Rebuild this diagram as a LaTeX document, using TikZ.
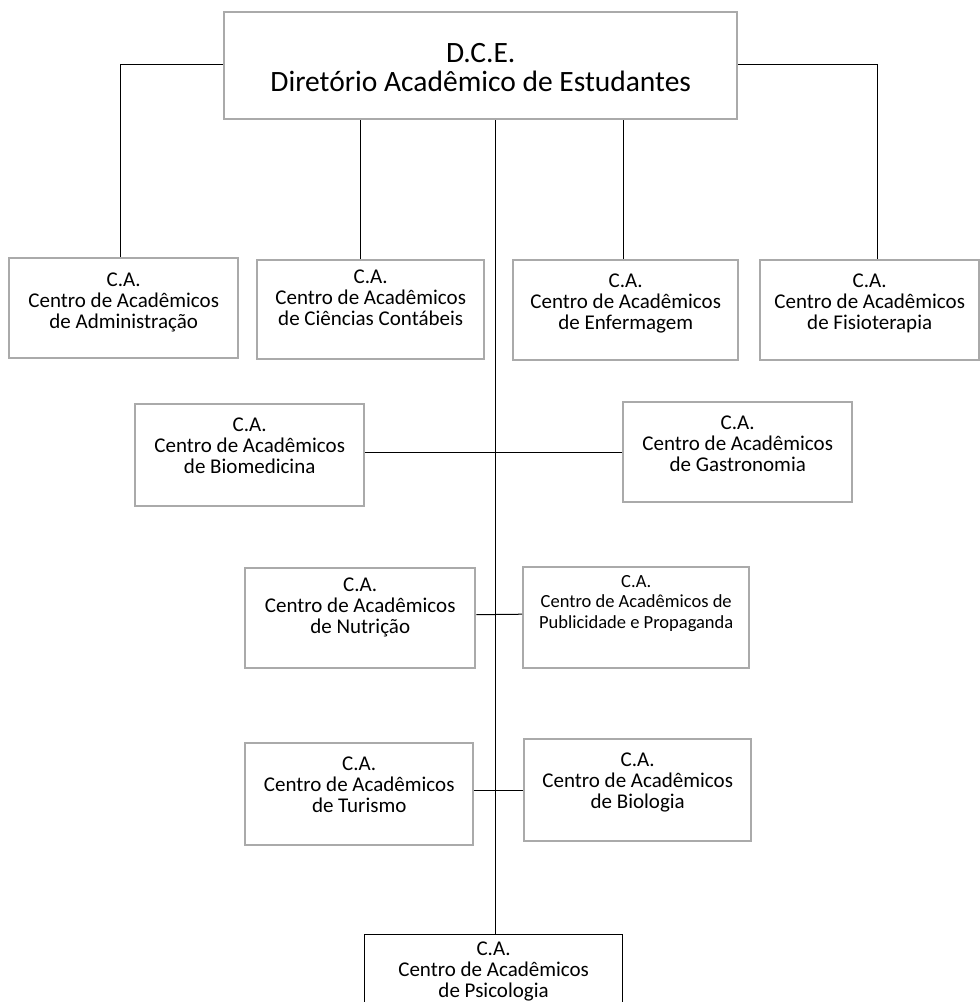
\documentclass[tikz,border=0pt]{standalone}
\usepackage{fontspec}
\setmainfont{Carlito}
\definecolor{boxgray}{RGB}{170,170,170}
\newcommand\catext[4]{\parbox[t][#2pt][t]{#1pt}{\centering\rule{0pt}{#3pt}#4}}
\tikzset{
  cabox/.style={draw=boxgray, line width=2.4pt, inner sep=0pt, anchor=north west,
    font=\fontsize{21}{21}\selectfont},
  psbox/.style={draw=black, line width=1.2pt, inner sep=0pt, anchor=north west,
    font=\fontsize{21}{21}\selectfont},
  smallca/.style={font=\fontsize{18.5}{20.5}\selectfont},
  dcefont/.style={font=\fontsize{29.5}{29}\selectfont},
  conn/.style={draw=black, line width=1pt},
}
\begin{document}
\begin{tikzpicture}[x=1pt,y=-1pt]
\useasboundingbox (0,0) rectangle (980,1002);
\clip (0,0) rectangle (980,1002);
\fill[white] (0,0) rectangle (980,1002);

\node[cabox, dcefont] (dce) at (223,11) {\catext{513}{107}{50}{D.C.E.\\Diretório Acadêmico de Estudantes}};

\node[cabox] (admin) at (8,257) {\catext{229}{100}{28}{C.A.\\Centro de Acadêmicos\\de Administração}};
\node[cabox] (cienc) at (256,259) {\catext{227}{99}{23}{C.A.\\Centro de Acadêmicos\\de Ciências Contábeis}};
\node[cabox] (enf) at (512,259) {\catext{225}{100}{27}{C.A.\\Centro de Acadêmicos\\de Enfermagem}};
\node[cabox] (fisio) at (759,259) {\catext{219}{100}{27}{C.A.\\Centro de Acadêmicos\\de Fisioterapia}};

\node[cabox] (biomed) at (134,403) {\catext{229}{102}{27}{C.A.\\Centro de Acadêmicos\\de Biomedicina}};
\node[cabox] (gastro) at (622,401) {\catext{229}{100}{27}{C.A.\\Centro de Acadêmicos\\de Gastronomia}};

\node[cabox] (nutri) at (244,567) {\catext{230}{100}{23}{C.A.\\Centro de Acadêmicos\\de Nutrição}};
\node[cabox, smallca] (pub) at (522,566) {\catext{226}{101}{20}{C.A.\\Centro de Acadêmicos de\\Publicidade e Propaganda}};

\node[cabox] (tur) at (244,742) {\catext{228}{102}{27}{C.A.\\Centro de Acadêmicos\\de Turismo}};
\node[cabox] (biol) at (523,738) {\catext{227}{102}{27}{C.A.\\Centro de Acadêmicos\\de Biologia}};

\node[psbox] (psico) at (364,934) {\catext{258}{90}{21}{C.A.\\Centro de Acadêmicos\\de Psicologia}};

% connectors
\coordinate (ta) at ([xshift=-3.5pt]admin.north);
\coordinate (tf) at ([xshift=7.5pt]fisio.north);
\coordinate (tc) at ([xshift=-10.5pt]cienc.north);
\coordinate (te) at ([xshift=-2.5pt]enf.north);
\coordinate (sp) at ([xshift=2pt]psico.north);
\coordinate (dl) at ([yshift=1.5pt]dce.west);
\coordinate (dr) at ([yshift=1.5pt]dce.east);

\draw[conn] (dl) -| (ta);
\draw[conn] (dr) -| (tf);
\draw[conn] (tc) -- (tc |- dce.south);
\draw[conn] (te) -- (te |- dce.south);
\draw[conn] (sp) -- (sp |- dce.south);
\draw[conn] (biomed.east |- gastro.west) -- (gastro.west);
\draw[conn] ([yshift=3.5pt]nutri.east) -- ([yshift=3.5pt]pub.west);
\draw[conn] (tur.east |- biol.west) -- (biol.west);
\end{tikzpicture}
\end{document}
